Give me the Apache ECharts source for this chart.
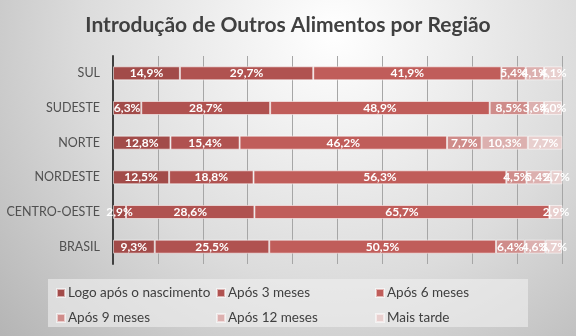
<!DOCTYPE html>
<html>
<head>
<meta charset="utf-8">
<script src="https://cdn.jsdelivr.net/npm/echarts@6/dist/echarts.min.js"></script>
<style>html,body{margin:0;padding:0;}#c{width:576px;height:336px;}</style>
</head>
<body>
<div id="c"></div>
<script>
const categories = ['SUL', 'SUDESTE', 'NORTE', 'NORDESTE', 'CENTRO-OESTE', 'BRASIL'];
const seriesNames = ['Logo após o nascimento', 'Após 3 meses', 'Após 6 meses', 'Após 9 meses', 'Após 12 meses', 'Mais tarde'];
const logoApos = [14.9, 6.3, 12.8, 12.5, 2.9, 9.3];
const apos3 = [29.7, 28.7, 15.4, 18.8, 28.6, 25.5];
const apos6 = [41.9, 48.9, 46.2, 56.3, 65.7, 50.5];
const apos9 = [5.4, 8.5, 7.7, 4.5, 0, 6.4];
const apos12 = [4.1, 3.6, 10.3, 5.4, 0, 4.6];
const maisTarde = [4.1, 4.0, 7.7, 2.7, 2.9, 3.7];
const seriesValues = [logoApos, apos3, apos6, apos9, apos12, maisTarde];
const colors = ['#A24B49', '#B05250', '#C05D5A', '#CF8C8A', '#DCB0AF', '#E8CFCE'];
const font = 'Lato, "Open Sans", sans-serif';

const chart = echarts.init(document.getElementById('c'));
const option = {
  backgroundColor: {
    type: 'radial', x: 0.58, y: 0.1, r: 1.35,
    colorStops: [{offset: 0, color: '#ffffff'}, {offset: 0.55, color: '#dcdcdc'}, {offset: 1, color: '#b4b4b4'}]
  },
  animation: false,
  title: {
    text: 'Introdução de Outros Alimentos por Região',
    left: 'center', top: 10,
    textStyle: {fontFamily: font, fontWeight: 'bold', fontSize: 21, color: '#404040'}
  },
  graphic: [{
    type: 'rect', left: 48, top: 279, shape: {width: 480, height: 48},
    style: {fill: 'rgba(240,240,240,0.6)'}, z: -1
  }],
  legend: [0, 1, 2].map((c, i) => ({
    orient: 'vertical',
    left: [51, 211, 370][i], top: 280,
    itemWidth: 8, itemHeight: 8, itemGap: 9,
    icon: 'rect',
    data: [seriesNames[i], seriesNames[i + 3]],
    textStyle: {fontFamily: font, fontSize: 13.5, color: '#404040', lineHeight: 16, padding: [0, 0, 0, -2]}
  })),
  grid: {left: 113, right: 14, top: 56, bottom: 72},
  xAxis: {
    type: 'value', min: 0, max: 100, interval: 10,
    axisLabel: {show: false}, axisLine: {show: false}, axisTick: {show: false},
    splitLine: {lineStyle: {color: '#a6a6a6', width: 1}}
  },
  yAxis: {
    type: 'category', data: categories, inverse: true,
    axisLine: {lineStyle: {color: '#404040', width: 2}},
    axisTick: {show: false},
    axisLabel: {fontFamily: font, fontSize: 12.5, color: '#505050', margin: 13}
  },
  series: seriesNames.map((name, i) => ({
    name: name, type: 'bar', stack: 'total',
    data: seriesValues[i],
    barWidth: 14,
    itemStyle: {color: colors[i], borderColor: 'rgba(255,255,255,0.55)', borderWidth: 1},
    label: {
      show: true, position: 'inside', color: '#ffffff',
      fontFamily: font, fontSize: 12, fontWeight: 'bold',
      formatter: p => p.value ? p.value.toFixed(1).replace('.', ',') + '%' : ''
    }
  }))
};
chart.setOption(option);
</script>
</body>
</html>
